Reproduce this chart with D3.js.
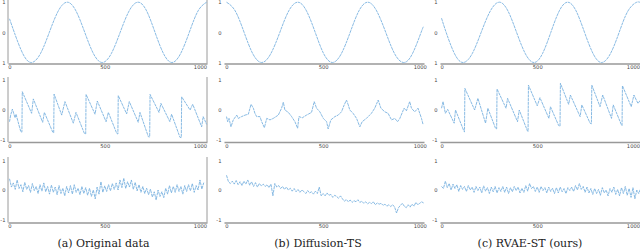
<!DOCTYPE html>
<html>
<head>
<meta charset="utf-8">
<script src="https://cdn.jsdelivr.net/npm/d3@7"></script>
<style>
body { margin: 0; background: #fff; }
svg { display: block; }
.tick text { font-family: "DejaVu Sans", sans-serif; font-size: 5.2px; fill: #444; }
.caption { font-family: "DejaVu Serif", serif; font-size: 11px; fill: #222; }
</style>
</head>
<body>
<svg id="chart" width="640" height="252"></svg>
<script>
// row 1: sine channel, [time step, value]
const sineOrig = [[0,0.45],[25,0],[70,-0.71],[115,-1],[162,-0.71],[209,0],[256,0.71],[303,1],[349,0.71],[395,0],[441,-0.71],[487,-1],[534,-0.71],[581,0],[628,0.71],[675,1],[720,0.71],[764,0],[809,-0.71],[853,-1],[898,-0.71],[944,0],[990,0.71],[1035,1]];
const sineDiff = [[0,1],[45,0.71],[91,0],[136,-0.71],[182,-1],[229,-0.71],[276,0],[322,0.71],[369,1],[414,0.71],[459,0],[503,-0.71],[548,-1],[594,-0.71],[640,0],[685,0.71],[731,1],[777,0.71],[824,0],[870,-0.71],[916,-1],[962,-0.71],[1007,0],[1020,0.2]];
const sineOurs = [[0,0.47],[24,0],[68,-0.71],[113,-1],[160,-0.71],[207,0],[255,0.71],[302,1],[347,0.71],[392,0],[438,-0.71],[483,-1],[527,-0.71],[571,0],[615,0.71],[659,1],[703,0.71],[747,0],[792,-0.71],[836,-1],[882,-0.71],[928,0],[974,0.71],[1020,1],[1040,0.97]];

// row 2: sawtooth channel, [time step, value]
const sawOrig = [[0,-0.39],[6,-0.17],[15,0.03],[29,-0.26],[34,-0.14],[59,-0.72],[65,-0.74],[67,0.61],[116,-0.11],[125,0.37],[174,-0.41],[183,-0.08],[227,-0.74],[232,-0.76],[234,0.53],[274,-0.17],[291,0.28],[335,-0.44],[349,-0.08],[393,-0.78],[400,-0.8],[402,0.52],[449,-0.14],[461,0.3],[507,-0.39],[519,-0.08],[563,-0.78],[569,-0.8],[571,0.48],[615,-0.13],[629,0.28],[676,-0.41],[685,-0.08],[729,-0.89],[736,-0.9],[738,0.52],[785,-0.08],[795,0.22],[842,-0.39],[851,-0.14],[895,-0.91],[902,-0.92],[904,0.44],[948,0],[962,0.19],[1009,-0.56],[1017,-0.22],[1035,-0.48]];
const sawDiff = [[0,-0.22],[6,-0.39],[13,-0.28],[23,-0.56],[35,-0.33],[53,-0.17],[61,-0.28],[78,-0.22],[96,-0.17],[113,-0.14],[127,0.19],[139,0.06],[147,-0.11],[156,-0.22],[173,-0.22],[182,-0.39],[196,-0.59],[208,-0.28],[225,-0.33],[242,-0.28],[268,-0.17],[285,0.06],[294,0.26],[302,0],[320,-0.08],[337,-0.22],[354,-0.39],[368,-0.61],[375,-0.22],[392,-0.26],[414,-0.17],[440,-0.08],[454,0.28],[466,0.06],[483,-0.06],[501,-0.28],[518,-0.39],[526,-0.63],[540,-0.33],[561,-0.22],[578,-0.17],[595,-0.06],[609,0.17],[621,0.33],[630,0.17],[638,0],[655,-0.11],[673,-0.28],[690,-0.56],[702,-0.39],[724,-0.28],[750,-0.11],[767,0.06],[785,0.33],[799,0.06],[819,-0.06],[836,-0.11],[854,-0.33],[871,-0.28],[885,-0.39],[897,-0.28],[919,0.06],[931,-0.03],[948,0.28],[957,0.06],[974,-0.06],[991,0.06],[1009,-0.28],[1017,-0.48]];
const sawOurs = [[0,0.06],[8,0.28],[20,-0.11],[32,0.02],[66,-0.44],[73,0],[118,-0.72],[120,-0.73],[122,0.72],[173,0],[190,0.39],[230,-0.44],[242,0.06],[282,-0.61],[288,-0.63],[290,0.7],[337,0.06],[345,0.39],[397,-0.39],[406,0],[449,-0.7],[452,-0.72],[454,0.83],[500,0.14],[514,0.41],[561,-0.28],[569,0.11],[612,-0.52],[619,-0.54],[621,0.89],[664,0.19],[673,0.5],[724,-0.22],[733,0.17],[776,-0.44],[783,-0.46],[785,0.83],[828,0.11],[842,0.5],[888,-0.28],[897,0.17],[940,-0.5],[943,-0.52],[945,0.81],[991,0.11],[1005,0.5],[1026,0.22],[1042,0.35]];

// row 3: noisy channel, one value every NOISE_STEP time steps
const NOISE_STEP = 10;
const noiseOrig = [0.38,0.1,0.24,0.02,0.34,0.05,0.18,-0.06,0.26,0.02,
  0.15,-0.08,0.22,-0.02,0.12,-0.12,0.18,-0.04,0.24,-0.06,
  0.12,-0.14,0.17,-0.08,0.1,-0.16,0.15,-0.12,0.06,-0.2,
  0.12,-0.1,0.15,-0.14,0.18,-0.08,0.06,-0.16,0.12,-0.12,
  0.08,-0.18,0.06,-0.22,0,-0.3,0.1,-0.14,0.28,-0.08,
  0.14,-0.05,0.18,-0.03,0.22,0.02,0.24,0,0.34,0.08,
  0.4,0.05,0.28,0.1,0.34,0.02,0.26,-0.03,0.18,-0.08,
  0.12,-0.12,0.06,-0.16,0.03,-0.24,-0.06,-0.34,0,-0.22,
  -0.06,-0.26,0.06,-0.14,0.15,-0.1,0.12,-0.08,0.18,-0.05,
  0.12,-0.14,0.15,-0.05,0.18,-0.03,0.22,-0.08,0.15,0,
  0.34,0.03,0.25];
const noiseDiff = [0.5,0.28,0.22,0.3,0.2,0.32,0.18,0.28,0.15,0.3,
  0.2,0.34,0.16,0.28,0.12,0.25,0.1,0.22,0.14,0.2,
  0.12,0.18,0.08,0.2,-0.2,0.22,0.1,0.15,0.05,0.12,
  0.02,0.1,0,0.06,-0.04,0.05,-0.06,0.02,-0.08,0,
  -0.05,-0.12,-0.02,-0.1,-0.06,-0.14,-0.04,-0.12,0.1,-0.2,
  -0.12,-0.2,-0.1,-0.18,-0.15,-0.25,-0.18,-0.22,-0.28,-0.2,
  -0.3,-0.38,-0.32,-0.4,-0.34,-0.42,-0.36,-0.4,-0.33,-0.42,
  -0.38,-0.45,-0.4,-0.47,-0.42,-0.46,-0.4,-0.5,-0.44,-0.48,
  -0.45,-0.52,-0.48,-0.55,-0.5,-0.56,-0.5,-0.58,-0.78,-0.6,
  -0.52,-0.45,-0.55,-0.6,-0.5,-0.58,-0.48,-0.55,-0.42,-0.5,
  -0.45,-0.4,-0.44];
const noiseOurs = [0.12,0.05,0.3,0.08,0.22,0,0.2,0.05,0.18,-0.05,
  0.15,0.02,0.12,-0.05,0.15,0,0.1,-0.08,0.12,-0.02,
  0.1,-0.1,0.14,-0.04,0.08,-0.12,0.1,-0.06,0.12,-0.1,
  0.08,-0.05,0.12,-0.08,0.1,-0.12,0.08,-0.06,0.12,-0.02,
  0.1,-0.1,0.06,-0.08,0.15,-0.04,0.22,0.05,0.12,-0.05,
  0.1,-0.08,0.12,-0.02,0.08,-0.1,0.1,-0.05,0.06,-0.12,
  0.08,-0.1,0.1,-0.06,0.05,-0.12,0.08,-0.02,0.1,-0.05,
  0.15,0,0.22,0.02,0.12,-0.08,0.1,-0.1,0.05,-0.15,
  0.05,-0.12,0.02,-0.18,0.08,-0.1,0,-0.2,0.05,-0.08,
  0.1,-0.15,0.02,-0.2,0.08,-0.12,0.12,-0.18,0.05,-0.25,
  0.08,-0.3,0,-0.12,0.05];

const xTicks = [0, 500, 1000];
const yTicks = [-1, 0, 1];
// tick text per row, bottom to top, as printed
const yTickText = [["1", "0", "1"], ["-1", "0", "1"], ["-1", "0", "1"]];
const captions = ["(a) Original data", "(b) Diffusion-TS", "(c) RVAE-ST (ours)"];

const toPoints = vals => vals.map((v, i) => [i * NOISE_STEP, v]);
const series = [
  [sineOrig, sineDiff, sineOurs],
  [sawOrig, sawDiff, sawOurs],
  [toPoints(noiseOrig), toPoints(noiseDiff), toPoints(noiseOurs)]
];

// layout
const cols = [
  { left: 8, right: 207, t0: -8, t1: 1037, spines: true, capX: 103.5 },
  { left: 224, right: 424, t0: -13, t1: 1022, spines: false, capX: 318 },
  { left: 440, right: 641, t0: -8, t1: 1042, spines: false, capX: 530 }
];
const rows = [
  { top: 0, yHi: 2.2, yLo: 62.5, axisY: 63.5, curve: d3.curveNatural },
  { top: 77, yHi: 80, yLo: 140, axisY: 142, curve: d3.curveLinear },
  { top: 157, yHi: 160.5, yLo: 219.5, axisY: 222.5, curve: d3.curveLinear }
];

const svg = d3.select("#chart");

rows.forEach((row, ri) => {
  cols.forEach((col, ci) => {
    const x = d3.scaleLinear().domain([col.t0, col.t1]).range([col.left, col.right]);
    const y = d3.scaleLinear().domain([-1, 1]).range([row.yLo, row.yHi]);
    const g = svg.append("g");

    if (col.spines) {
      [col.left, col.right].forEach(sx => {
        g.append("line")
          .attr("x1", sx).attr("x2", sx)
          .attr("y1", row.top).attr("y2", row.axisY)
          .attr("stroke", "#9a9a9a").attr("stroke-width", 1);
      });
    }

    const line = d3.line()
      .x(d => x(d[0]))
      .y(d => y(d[1]))
      .curve(row.curve);

    g.append("path")
      .datum(series[ri][ci])
      .attr("fill", "none")
      .attr("stroke", "#7ab2e0")
      .attr("stroke-width", 0.9)
      .attr("stroke-dasharray", "3,0.7")
      .attr("d", line);

    // x axis
    const xAxis = g.append("g")
      .attr("transform", "translate(0," + row.axisY + ")")
      .call(d3.axisBottom(x).tickValues(xTicks).tickFormat(d3.format("d"))
        .tickSize(0).tickPadding(2).tickSizeOuter(0));
    xAxis.select(".domain").attr("stroke", "#999").attr("stroke-width", 1.5);

    // y axis
    const yAxis = g.append("g")
      .attr("transform", "translate(" + col.left + ",0)")
      .call(d3.axisLeft(y).tickValues(yTicks).tickSize(0).tickPadding(2.5)
        .tickFormat((d, i) => yTickText[ri][i]));
    yAxis.select(".domain").remove();
  });
});

cols.forEach((col, ci) => {
  svg.append("text")
    .attr("class", "caption")
    .attr("x", col.capX)
    .attr("y", 247)
    .attr("text-anchor", "middle")
    .text(captions[ci]);
});
</script>
</body>
</html>
